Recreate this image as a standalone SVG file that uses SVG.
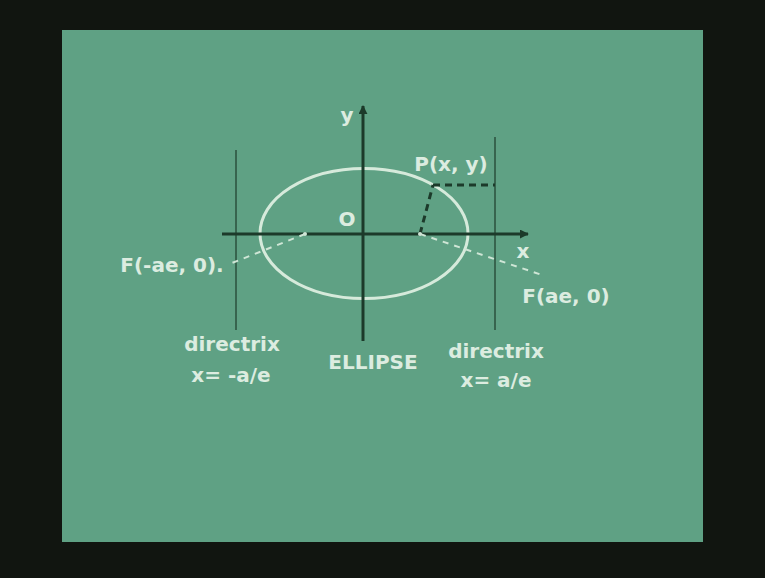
<svg xmlns="http://www.w3.org/2000/svg" width="765" height="578" viewBox="0 0 765 578">
<style>
.t{font-family:"DejaVu Sans","Liberation Sans",sans-serif;font-weight:bold;fill:#dcece0;font-size:20px}
.ax{stroke:#1c3a2a;stroke-width:3;fill:none}
.dir{stroke:#2a503c;stroke-width:1.5;fill:none}
.wd{stroke:#cfe6d6;stroke-width:2;stroke-dasharray:6,6;fill:none}
.dd{stroke:#1c3a2a;stroke-width:3;stroke-dasharray:7,5;fill:none}
</style>
<defs>
<marker id="ah" viewBox="0 0 10 10" refX="9" refY="5" markerWidth="3" markerHeight="3" orient="auto"><path d="M0,0 L10,5 L0,10 z" fill="#1c3a2a"/></marker>
</defs>
<rect width="765" height="578" fill="#111510"/>
<rect x="62" y="30" width="641" height="512" fill="#5fa184"/>
<g id="directrices">
<line class="dir" x1="236" y1="150" x2="236" y2="330"/>
<line class="dir" x1="495" y1="137" x2="495" y2="330"/>
</g>
<g id="ellipse">
<ellipse cx="364" cy="233.5" rx="104" ry="65" fill="none" stroke="#d6eadb" stroke-width="3"/>
</g>
<g id="connectors">
<line class="ax" x1="363" y1="341" x2="363" y2="106" marker-end="url(#ah)"/>
<line class="ax" x1="222" y1="234" x2="528" y2="234" marker-end="url(#ah)"/>
<line class="dd" x1="420" y1="234" x2="433" y2="185"/>
<line class="dd" x1="433" y1="185" x2="495" y2="185"/>
<line class="wd" x1="305" y1="234" x2="232" y2="263"/>
<line class="wd" x1="420" y1="234" x2="542" y2="275"/>
<circle cx="305" cy="234" r="2" fill="#cfe6d6"/>
<circle cx="420" cy="234" r="2" fill="#cfe6d6"/>
</g>
<g id="labels">
<text class="t" x="347" y="122" text-anchor="middle">y</text>
<text class="t" x="347" y="226" text-anchor="middle">O</text>
<text class="t" x="523" y="258" text-anchor="middle">x</text>
<text class="t" x="451" y="171" text-anchor="middle">P(x, y)</text>
<text class="t" x="172" y="272" text-anchor="middle">F(-ae, 0).</text>
<text class="t" x="566" y="303" text-anchor="middle">F(ae, 0)</text>
<text class="t" x="232" y="351" text-anchor="middle">directrix</text>
<text class="t" x="231" y="382" text-anchor="middle">x= -a/e</text>
<text class="t" x="373" y="369" text-anchor="middle">ELLIPSE</text>
<text class="t" x="496" y="358" text-anchor="middle">directrix</text>
<text class="t" x="496" y="387" text-anchor="middle">x= a/e</text>
</g>
</svg>
